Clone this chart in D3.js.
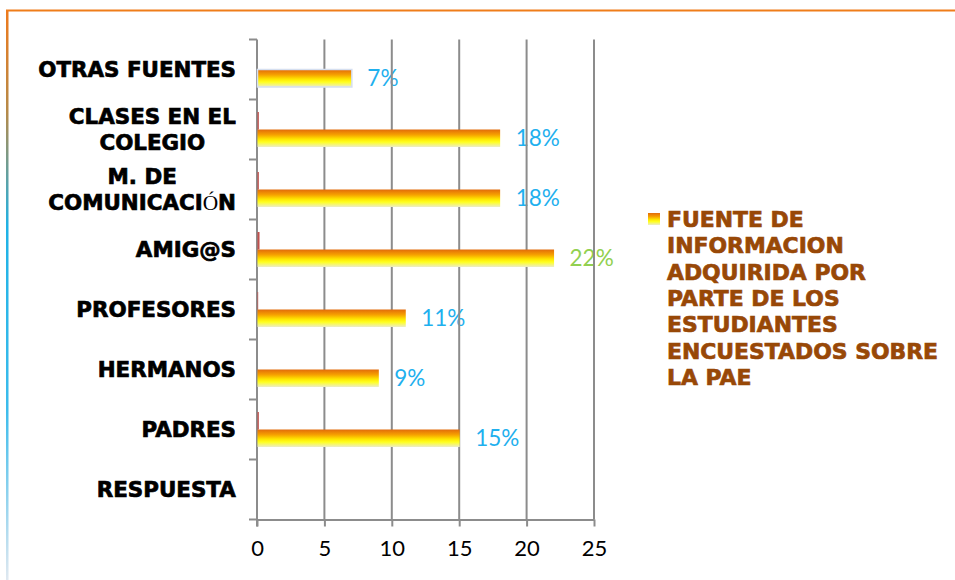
<!DOCTYPE html>
<html>
<head>
<meta charset="utf-8">
<script src="https://cdn.jsdelivr.net/npm/d3@7/dist/d3.min.js"></script>
<style>
  html, body { margin: 0; padding: 0; background: #fff; }
  svg { display: block; }
</style>
</head>
<body>
<svg id="chart" width="955" height="580"></svg>
<script>
// ---- data (top to bottom) ----
const categories = [
  ["OTRAS FUENTES"],
  ["CLASES EN EL", "COLEGIO"],
  ["M. DE", "COMUNICACIÓN"],
  ["AMIG@S"],
  ["PROFESORES"],
  ["HERMANOS"],
  ["PADRES"],
  ["RESPUESTA"]
];
const values = [7, 18, 18, 22, 11, 9, 15, 0];
const minorValues = [0, 0.1, 0.1, 0.15, 0.05, 0, 0.1, 0];
const labels = ["7%", "18%", "18%", "22%", "11%", "9%", "15%", ""];
const xTicks = [0, 5, 10, 15, 20, 25];
const legendLines = ["FUENTE DE", "INFORMACION", "ADQUIRIDA POR", "PARTE DE LOS", "ESTUDIANTES", "ENCUESTADOS SOBRE", "LA PAE"];

const svg = d3.select("#chart");
const defs = svg.append("defs");

// gradients
const bg = defs.append("linearGradient").attr("id", "barGrad")
  .attr("x1", 0).attr("y1", 0).attr("x2", 0).attr("y2", 1);
[["0%", "#e26b0a"], ["30%", "#f6a100"], ["55%", "#ffe600"], ["72%", "#ffff20"], ["100%", "#ececc8"]]
  .forEach(([o, c]) => bg.append("stop").attr("offset", o).attr("stop-color", c));

const lg = defs.append("linearGradient").attr("id", "leftGrad")
  .attr("x1", 0).attr("y1", 0).attr("x2", 0).attr("y2", 1);
[["0%", "#ee7a1c"], ["18%", "#b58a4a"], ["38%", "#1fb2e6"], ["70%", "#3cbcec"], ["100%", "#e0e8f0"]]
  .forEach(([o, c]) => lg.append("stop").attr("offset", o).attr("stop-color", c));

// frame
svg.append("rect").attr("x", 6).attr("y", 10).attr("width", 2.5).attr("height", 570).attr("fill", "url(#leftGrad)");
svg.append("rect").attr("x", 6).attr("y", 9.5).attr("width", 949).attr("height", 2).attr("fill", "#ef7d1a");

// scales
const plot = { left: 257, right: 594, top: 39.5, bottom: 519.5 };
const x = d3.scaleLinear().domain([0, 25]).range([plot.left, plot.right]);
const y = d3.scaleBand().domain(d3.range(categories.length)).range([plot.top, plot.bottom]);
const barH = 17.5;
const center = i => y(i) + y.bandwidth() / 2;

// data labels (drawn beneath gridlines, as in the original)
svg.append("g").selectAll("text").data(values).join("text")
  .attr("x", d => x(d) + 16)
  .attr("y", (d, i) => center(i) + barH / 2)
  .attr("dy", "0.36em")
  .attr("font-family", "Lato, 'Open Sans', sans-serif")
  .attr("font-size", 22.5)
  .attr("fill", (d, i) => i === 3 ? "#92d050" : "#1fb0ee")
  .text((d, i) => labels[i]);

// gridlines
svg.append("g").selectAll("line").data(xTicks.slice(1)).join("line")
  .attr("x1", d => x(d)).attr("x2", d => x(d))
  .attr("y1", plot.top).attr("y2", plot.bottom)
  .attr("stroke", "#8c8c8c").attr("stroke-width", 2);

// x axis
const xAxis = svg.append("g").attr("transform", `translate(0,${plot.bottom})`)
  .call(d3.axisBottom(x).tickValues(xTicks).tickSize(7).tickSizeOuter(0).tickPadding(14));
xAxis.select(".domain").attr("stroke", "#8c8c8c").attr("stroke-width", 2);
xAxis.selectAll(".tick line").attr("stroke", "#8c8c8c").attr("stroke-width", 2);
xAxis.selectAll(".tick text").attr("font-family", "Lato, 'Open Sans', sans-serif")
  .attr("font-size", 22).attr("fill", "#000");

// y axis (boundary ticks)
const yAxisG = svg.append("g");
yAxisG.append("line").attr("x1", plot.left).attr("x2", plot.left)
  .attr("y1", plot.top).attr("y2", plot.bottom + 7)
  .attr("stroke", "#8c8c8c").attr("stroke-width", 2);
const bounds = d3.range(categories.length + 1).map(i => plot.top + i * y.step());
yAxisG.selectAll("line.bt").data(bounds).join("line").attr("class", "bt")
  .attr("x1", plot.left - 8).attr("x2", plot.left)
  .attr("y1", d => d).attr("y2", d => d)
  .attr("stroke", "#8c8c8c").attr("stroke-width", 2);

// bars
svg.append("g").selectAll("rect").data(values).join("rect")
  .attr("x", x(0) + 0.5)
  .attr("y", (d, i) => center(i))
  .attr("width", d => Math.max(0, x(d) - x(0)))
  .attr("height", barH)
  .attr("fill", "url(#barGrad)")
  .attr("stroke", (d, i) => i === 0 ? "#d5dff0" : "none")
  .attr("stroke-width", 1.5);

svg.append("g").selectAll("rect").data(minorValues).join("rect")
  .attr("x", x(0) + 0.5)
  .attr("y", (d, i) => center(i) - barH)
  .attr("width", d => Math.max(0, x(d) - x(0)))
  .attr("height", barH)
  .attr("fill", "#c0504d");

// category labels
const heavy = "'DejaVu Sans', Verdana, sans-serif";
const catG = svg.append("g").attr("font-family", heavy)
  .attr("font-weight", "bold").attr("font-size", 21.4).attr("fill", "#000")
  .attr("stroke", "#000").attr("stroke-width", 0.7);
const lineH = 26;
categories.forEach((lines, i) => {
  const t = catG.append("text").attr("text-anchor", "middle");
  const c = center(i);
  const startY = c - (lines.length - 1) * lineH / 2;
  lines.forEach((ln, j) => {
    const ts = t.append("tspan").attr("x", 0).attr("y", startY + j * lineH).attr("dy", "0.36em");
    if (ln.includes("Ó")) {
      const parts = ln.split("Ó");
      ts.append("tspan").text(parts[0]);
      ts.append("tspan").attr("font-weight", "normal").attr("stroke-width", 0)
        .attr("font-family", "'Liberation Serif', serif").text("Ó");
      ts.append("tspan").text(parts[1]);
    } else ts.text(ln);
  });
  const bb = t.node().getBBox();
  t.attr("transform", `translate(${236 - bb.width / 2},0)`);
});

// legend
const legG = svg.append("g");
legG.append("rect").attr("x", 648).attr("y", 213).attr("width", 12).attr("height", 12).attr("fill", "url(#barGrad)");
legG.append("g").attr("font-family", heavy)
  .attr("font-weight", "bold").attr("font-size", 21.9).attr("fill", "#984807")
  .attr("stroke", "#984807").attr("stroke-width", 0.7)
  .selectAll("text").data(legendLines).join("text")
  .attr("x", 667).attr("y", (d, i) => 219 + i * 26.4).attr("dy", "0.36em")
  .text(d => d);
</script>
</body>
</html>
